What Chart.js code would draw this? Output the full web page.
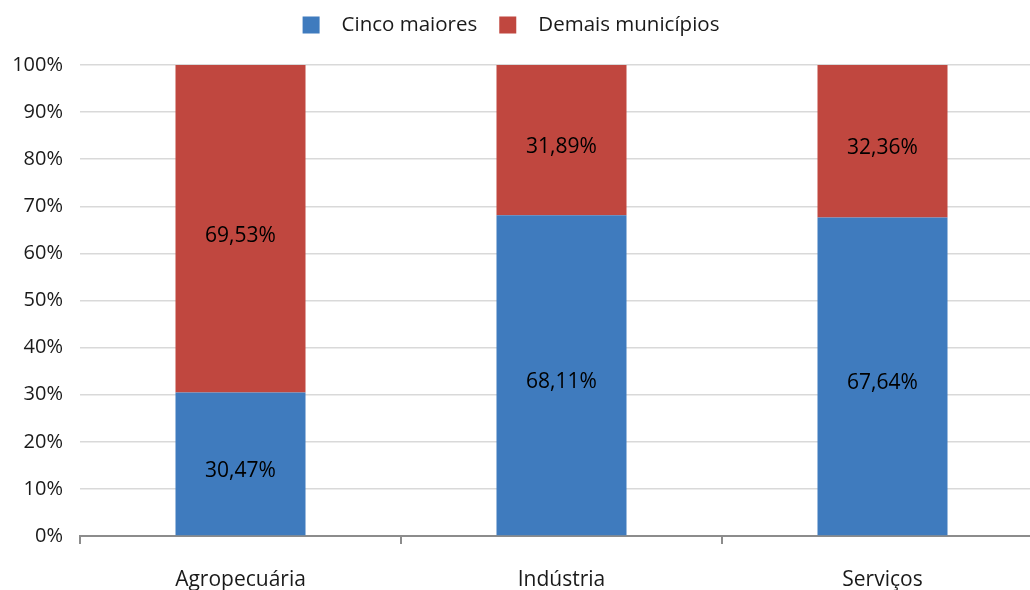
<!DOCTYPE html>
<html>
<head>
<meta charset="utf-8">
<script src="https://cdn.jsdelivr.net/npm/chart.js@4.4.1/dist/chart.umd.min.js"></script>
<style>
  html, body { margin: 0; padding: 0; background: #fff; }
  #wrap { width: 1030px; height: 590px; overflow: hidden; position: relative; }
  #chart { display: block; }
</style>
</head>
<body>
<div id="wrap"><canvas id="chart" width="1050" height="590"></canvas></div>
<script>
// Participação no valor adicionado por setor
const categories = ['Agropecuária', 'Indústria', 'Serviços'];
const seriesNames = ['Cinco maiores', 'Demais municípios'];
const cincoMaiores = [30.47, 68.11, 67.64];
const demaisMunicipios = [69.53, 31.89, 32.36];
const yTicks = [0, 10, 20, 30, 40, 50, 60, 70, 80, 90, 100];

const FONT = "'Open Sans', 'Noto Sans', sans-serif";
const TEXT = '#1a1a1a';
const BLUE = '#3f7bbe';
const RED = '#c0473f';

const fmt = v => v.toFixed(2).replace('.', ',') + '%';

// Value labels centred inside each stacked segment
const segmentLabels = {
  id: 'segmentLabels',
  afterDatasetsDraw(chart) {
    const ctx = chart.ctx;
    ctx.save();
    ctx.font = '21px ' + FONT;
    ctx.fillStyle = '#000';
    ctx.textAlign = 'center';
    ctx.textBaseline = 'middle';
    chart.data.datasets.forEach((ds, di) => {
      chart.getDatasetMeta(di).data.forEach((bar, i) => {
        const { x, y, base } = bar.getProps(['x', 'y', 'base'], true);
        ctx.fillText(fmt(ds.data[i]), x, (y + base) / 2 + 7);
      });
    });
    ctx.restore();
  }
};

// Legend row above the plot: square swatch followed by the series name
const topLegend = {
  id: 'topLegend',
  afterDraw(chart) {
    const ctx = chart.ctx;
    ctx.save();
    ctx.font = '20.5px ' + FONT;
    ctx.textBaseline = 'middle';
    const box = 17, gapText = 22, gapItem = 22, cy = 25;
    const items = chart.data.datasets.map(d => ({ label: d.label, color: d.backgroundColor, w: ctx.measureText(d.label).width }));
    let total = 0;
    items.forEach((it, k) => { total += box + gapText + it.w + (k < items.length - 1 ? gapItem : 0); });
    let x = 511 - total / 2;
    items.forEach(it => {
      ctx.fillStyle = it.color;
      ctx.fillRect(x, cy - box / 2, box, box);
      x += box + gapText;
      ctx.fillStyle = TEXT;
      ctx.textAlign = 'left';
      ctx.fillText(it.label, x, cy);
      x += it.w + gapItem;
    });
    ctx.restore();
  }
};

new Chart(document.getElementById('chart'), {
  type: 'bar',
  data: {
    labels: categories,
    datasets: [
      { label: seriesNames[0], data: cincoMaiores, backgroundColor: BLUE },
      { label: seriesNames[1], data: demaisMunicipios, backgroundColor: RED }
    ]
  },
  options: {
    responsive: false,
    animation: false,
    events: [],
    layout: { padding: { top: 65, right: 7, bottom: 0, left: 0 } },
    datasets: { bar: { categoryPercentage: 0.405, barPercentage: 1 } },
    plugins: { legend: { display: false }, tooltip: { enabled: false } },
    scales: {
      x: {
        stacked: true,
        afterFit(scale) { scale.height = 54; },
        grid: { offset: true, drawOnChartArea: false, drawTicks: true, tickLength: 8, color: '#8c8c8c', lineWidth: 2 },
        border: { display: true, color: '#8c8c8c', width: 2 },
        ticks: { font: { family: FONT, size: 21 }, color: TEXT, padding: 23, maxRotation: 0 }
      },
      y: {
        stacked: true,
        min: 0,
        max: 100,
        afterBuildTicks(scale) { scale.ticks = yTicks.map(v => ({ value: v })); },
        afterFit(scale) { scale.width = 80; },
        grid: { color: '#d9d9d9', lineWidth: 1.5, drawTicks: false },
        border: { display: false },
        ticks: { font: { family: FONT, size: 20 }, color: TEXT, padding: 17, callback: v => v + '%' }
      }
    }
  },
  plugins: [segmentLabels, topLegend]
});
</script>
</body>
</html>
